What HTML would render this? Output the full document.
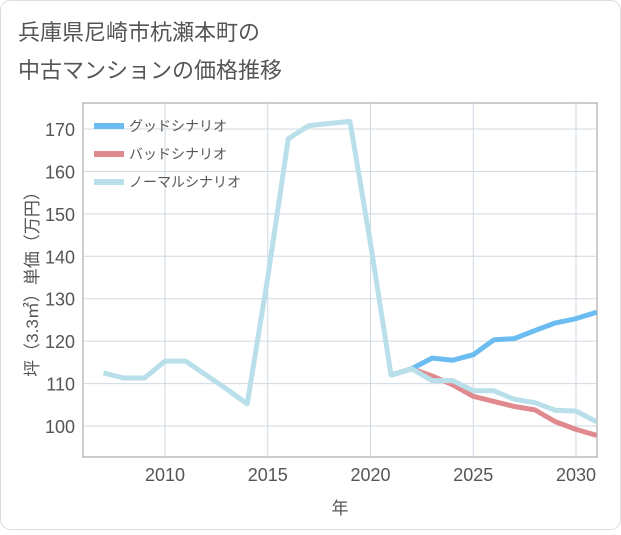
<!DOCTYPE html>
<html><head><meta charset="utf-8"><style>
body{margin:0;background:#fff;}
#c{position:relative;width:621px;height:530px;border-radius:10px;background:#fff;font-family:"Liberation Sans","Noto Sans CJK JP",sans-serif;}
</style></head><body>
<div id="c">
<svg id="s" width="621" height="530">
<rect x="0.5" y="0.5" width="620" height="529" rx="10" fill="#fff" stroke="#ddd"/>
<text x="18" y="40" font-size="22" fill="#555">兵庫県尼崎市杭瀬本町の</text>
<text x="18" y="78" font-size="22" fill="#555">中古マンションの価格推移</text>
<g id="grid"></g><g id="series"></g><g id="axes"></g>
</svg></div>
<script>
const years=[2007,2008,2009,2010,2011,2012,2013,2014,2015,2016,2017,2018,2019,2020,2021,2022,2023,2024,2025,2026,2027,2028,2029,2030,2031];
const normal=[112.5,111.3,111.3,115.3,115.3,112,108.7,105.2,135,167.7,170.8,171.3,171.8,143,112,113.5,110.7,110.7,108.3,108.3,106.3,105.5,103.7,103.5,101];
const goodYears=[2021,2022,2023,2024,2025,2026,2027,2028,2029,2030,2031];
const good=[112,113.5,116,115.5,116.8,120.3,120.6,122.5,124.3,125.3,126.8];
const bad=[112,113.5,111.8,109.7,107,105.8,104.6,103.8,101,99.2,97.8];
const xTicks=[2010,2015,2020,2025,2030];
const yTicks=[100,110,120,130,140,150,160,170];
const L=83,R=597,T=103,B=457;
const X=y=>165+(y-2010)*20.55;
const Y=v=>426-(v-100)*4.243;
const NS='http://www.w3.org/2000/svg';
function mk(p,t,a){const e=document.createElementNS(NS,t);for(const k in a)e.setAttribute(k,a[k]);p.appendChild(e);return e;}
const g=document.getElementById('grid'),s=document.getElementById('series'),ax=document.getElementById('axes');
mk(g,'rect',{x:L,y:T,width:R-L,height:B-T,fill:'#fff',stroke:'#999'});
yTicks.forEach(v=>{const l=mk(g,'line',{x1:L,x2:R,y1:Y(v),y2:Y(v),stroke:'#cfd8e2'});

const t=mk(ax,'text',{x:L-8,y:Y(v)+7,'text-anchor':'end','font-size':18,fill:'#555'});t.textContent=v;
});
xTicks.forEach(v=>{const l=mk(g,'line',{x1:X(v),x2:X(v),y1:T,y2:B,stroke:'#cfd8e2'});

const t=mk(ax,'text',{x:X(v),y:B+24,'text-anchor':'middle','font-size':18,fill:'#555'});t.textContent=v;
});
const xt=mk(ax,'text',{x:340,y:514,'text-anchor':'middle','font-size':17,fill:'#555'});xt.textContent='年';

const yt=mk(ax,'text',{x:0,y:0,'text-anchor':'middle','font-size':17,fill:'#555',transform:'translate(38,280) rotate(-90)'});yt.textContent='坪（3.3㎡）単価（万円）';

const clip=mk(s,'clipPath',{id:'cp'});mk(clip,'rect',{x:L,y:T,width:R-L,height:B-T});
function line(xs,vs,c,n){const d=xs.map((y,i)=>(i?'L':'M')+X(y)+','+Y(vs[i])).join('');
const p=mk(s,'path',{d:d,fill:'none',stroke:c,'stroke-width':5,'stroke-linejoin':'round','clip-path':'url(#cp)'});
}
line(goodYears,bad,'#e08a8f','bad-scenario-line');
line(goodYears,good,'#6bbcf0','good-scenario-line');
line(years,normal,'#b9dfeb','normal-scenario-line');
const lg=mk(ax,'g',{});
[['グッドシナリオ','#6bbcf0'],['バッドシナリオ','#e08a8f'],['ノーマルシナリオ','#b9dfeb']].forEach((e,i)=>{
const gy=126+i*28;const r=mk(lg,'rect',{x:94,y:gy-3,width:30,height:6,fill:e[1]});

const t=mk(lg,'text',{x:129,y:gy+5,'font-size':14,fill:'#555'});t.textContent=e[0];
});
</script></body></html>
